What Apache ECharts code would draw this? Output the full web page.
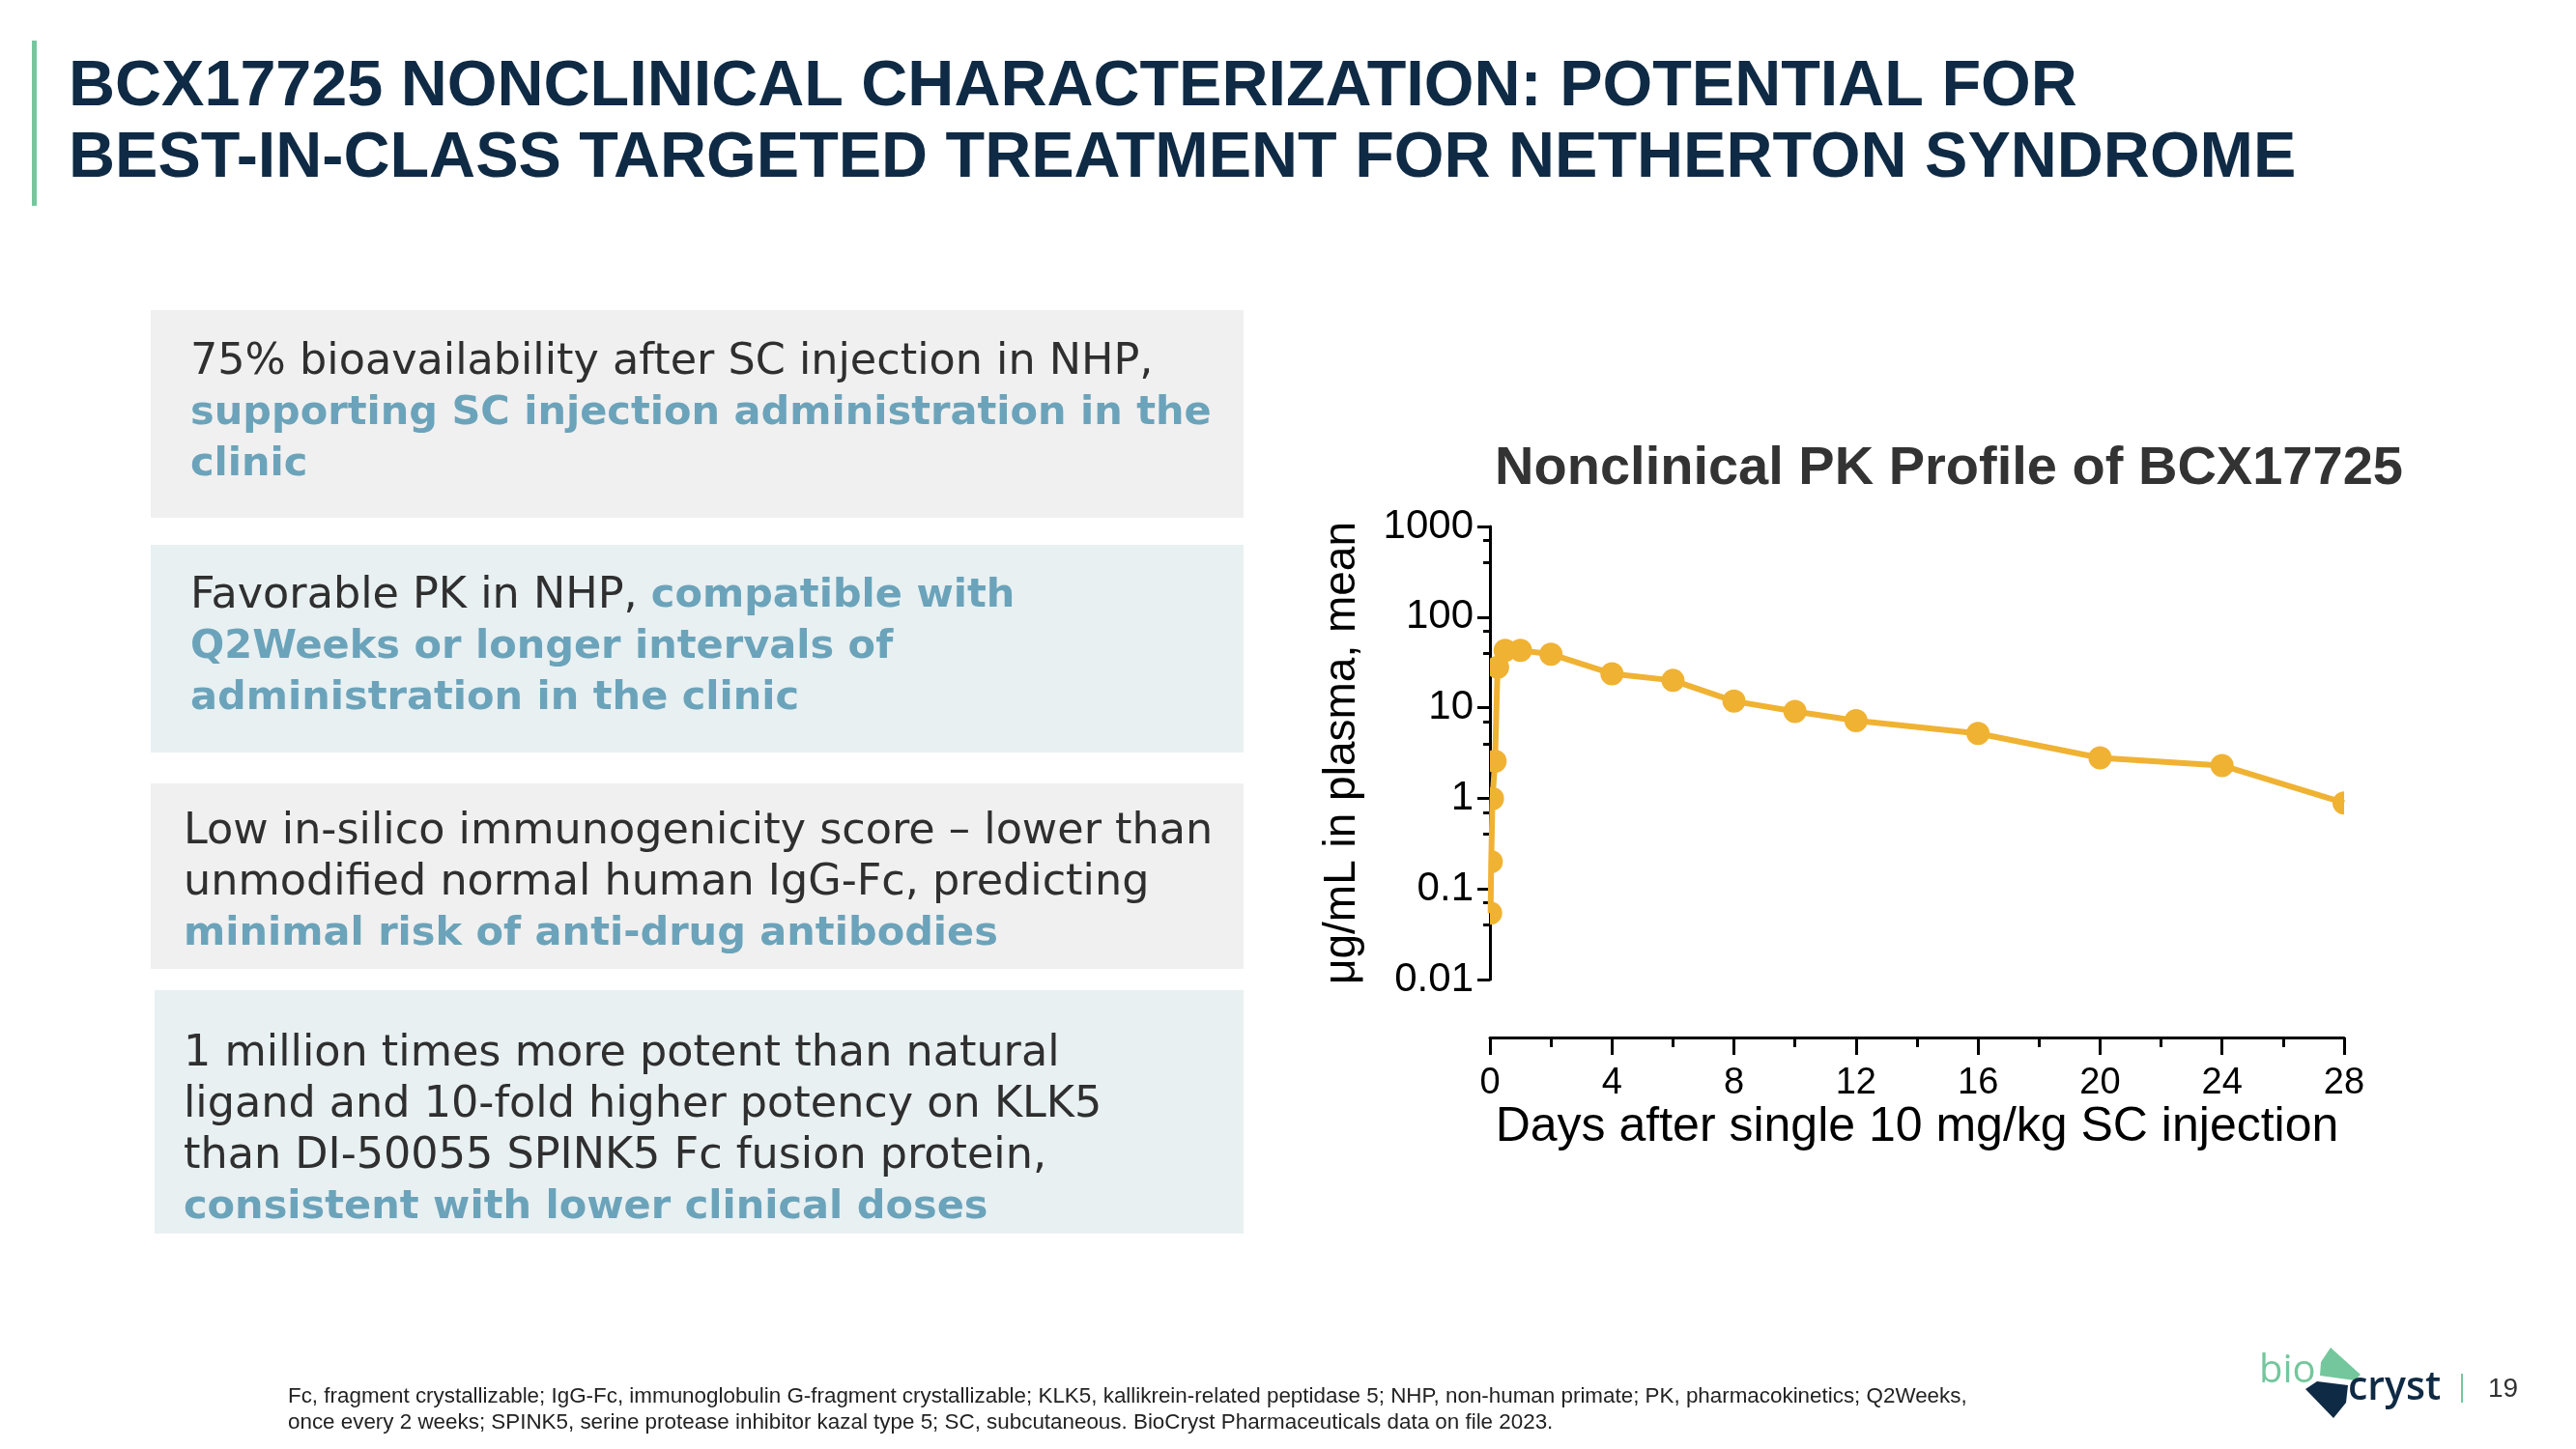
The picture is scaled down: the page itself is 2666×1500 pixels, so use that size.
<!DOCTYPE html>
<html>
<head>
<meta charset="utf-8">
<script src="https://cdn.jsdelivr.net/npm/echarts@6/dist/echarts.min.js"></script>
<style>
html,body{margin:0;padding:0;background:#fff;}
#chart{width:2666px;height:1500px;}
</style>
</head>
<body>
<div id="chart"></div>
<script>
// ---- data ----
const days = [0.021, 0.042, 0.083, 0.167, 0.25, 0.5, 1, 2, 4, 6, 8, 10, 12, 16, 20, 24, 28];
const concMean = [0.054, 0.2, 0.99, 2.57, 28, 43, 43, 39, 23.7, 20, 11.8, 9.1, 7.2, 5.2, 2.8, 2.3, 0.89];
const yTickLabels = ['0.01', '0.1', '1', '10', '100', '1000'];
const xTickLabels = ['0', '4', '8', '12', '16', '20', '24', '28'];
const chartTitle = 'Nonclinical PK Profile of BCX17725';
const xAxisTitle = 'Days after single 10 mg/kg SC injection';
const yAxisTitle = 'μg/mL in plasma, mean';
const slideTitle = ['BCX17725 NONCLINICAL CHARACTERIZATION: POTENTIAL FOR',
                    'BEST-IN-CLASS TARGETED TREATMENT FOR NETHERTON SYNDROME'];
const box1 = [[['d','75% bioavailability after SC injection in NHP,']],
              [['b','supporting SC injection administration in the']],
              [['b','clinic']]];
const box2 = [[['d','Favorable PK in NHP, '],['b','compatible with']],
              [['b','Q2Weeks or longer intervals of']],
              [['b','administration in the clinic']]];
const box3 = [[['d','Low in-silico immunogenicity score – lower than']],
              [['d','unmodified normal human IgG-Fc, predicting']],
              [['b','minimal risk of anti-drug antibodies']]];
const box4 = [[['d','1 million times more potent than natural']],
              [['d','ligand and 10-fold higher potency on KLK5']],
              [['d','than DI-50055 SPINK5 Fc fusion protein,']],
              [['b','consistent with lower clinical doses']]];
const footnote = ['Fc, fragment crystallizable; IgG-Fc, immunoglobulin G-fragment crystallizable; KLK5, kallikrein-related peptidase 5; NHP, non-human primate; PK, pharmacokinetics; Q2Weeks,',
                  'once every 2 weeks; SPINK5, serine protease inhibitor kazal type 5; SC, subcutaneous. BioCryst Pharmaceuticals data on file 2023.'];
const pageNumber = '19';

// ---- styling ----
const ORANGE = '#F0B233';
const NAVY = '#0F2A44';
const DARK = '#2F2F2F';
const BLUE = '#6BA3BA';
const GREEN = '#74C79D';
const BOXFONT = '"DejaVu Sans", "Open Sans", sans-serif';
const LOGOFONT = '"Open Sans", "Noto Sans", sans-serif';
const ARIAL = '"Liberation Sans", Arial, sans-serif';

const chart = echarts.init(document.getElementById('chart'), null, {renderer: 'canvas'});

const graphics = [];
// green accent bar
graphics.push({type: 'rect', shape: {x: 33, y: 42, width: 5, height: 171}, style: {fill: GREEN}});
// slide title
slideTitle.forEach((t, i) => {
  graphics.push({type: 'text', x: 71, y: 91 + i * 74,
    style: {text: t, font: 'bold 66.5px ' + ARIAL, fill: NAVY, textVerticalAlign: 'middle'}});
});
// boxes
function addBox(x, y, w, h, fill, lines, tx, ty0) {
  graphics.push({type: 'rect', shape: {x: x, y: y, width: w, height: h}, style: {fill: fill}});
  lines.forEach((segs, i) => {
    const txt = segs.map(s => '{' + s[0] + '|' + s[1] + '}').join('');
    graphics.push({type: 'text', x: tx, y: ty0 + i * 53,
      style: {text: txt, textVerticalAlign: 'middle',
        rich: {
          d: {fontFamily: BOXFONT, fontSize: 44.5, fontWeight: 400, fill: DARK},
          b: {fontFamily: BOXFONT, fontSize: 41.5, fontWeight: 700, fill: BLUE}
        }}});
  });
}
addBox(156, 321, 1131, 215, '#F0F0F0', box1, 197, 375);
addBox(156, 564, 1131, 215, '#E8F0F2', box2, 197, 617);
addBox(156, 811, 1131, 192, '#F0F0F0', box3, 190, 861);
addBox(160, 1025, 1127, 252, '#E8F0F2', box4, 190, 1091);
// chart title
graphics.push({type: 'text', x: 2017, y: 486,
  style: {text: chartTitle, font: 'bold 56px ' + ARIAL, fill: '#333333', textAlign: 'center', textVerticalAlign: 'middle'}});
// footnote
footnote.forEach((t, i) => {
  graphics.push({type: 'text', x: 298, y: 1446 + i * 27,
    style: {text: t, font: '22.4px ' + ARIAL, fill: '#222222', textVerticalAlign: 'middle'}});
});
// logo
graphics.push({type: 'text', x: 2338, y: 1420, style: {text: 'bio', font: '500 40px ' + LOGOFONT, fill: GREEN, textVerticalAlign: 'middle'}});
graphics.push({type: 'polygon', shape: {points: [[2412, 1395], [2443, 1423], [2437, 1429], [2401, 1424], [2402, 1410]]}, style: {fill: GREEN}});
graphics.push({type: 'polygon', shape: {points: [[2386, 1438], [2398, 1430], [2430, 1434], [2428, 1452], [2415, 1468]]}, style: {fill: NAVY}});
graphics.push({type: 'text', x: 2430, y: 1437, style: {text: 'cryst', font: '600 41px ' + LOGOFONT, fill: NAVY, textVerticalAlign: 'middle'}});
graphics.push({type: 'rect', shape: {x: 2547, y: 1422, width: 2, height: 30}, style: {fill: GREEN}});
graphics.push({type: 'text', x: 2575, y: 1438, style: {text: pageNumber, font: '28px ' + ARIAL, fill: '#333333', textVerticalAlign: 'middle'}});

const points = days.map((d, i) => [d, concMean[i]]);

chart.setOption({
  animation: false,
  backgroundColor: '#ffffff',
  graphic: graphics,
  grid: {left: 1542, right: 240, top: 545, bottom: 486, containLabel: false},
  xAxis: {
    type: 'value', min: 0, max: 28, interval: 4, offset: 60,
    axisLine: {show: true, onZero: false, lineStyle: {color: '#000', width: 3}},
    axisTick: {show: true, length: 18, lineStyle: {color: '#000', width: 3}},
    minorTick: {show: true, splitNumber: 2, length: 10, lineStyle: {color: '#000', width: 3}},
    splitLine: {show: false},
    axisLabel: {fontSize: 38, color: '#000', fontFamily: ARIAL, margin: 29,
      formatter: v => xTickLabels[Math.round(v / 4)]},
    name: xAxisTitle, nameLocation: 'middle', nameGap: 66,
    nameTextStyle: {fontSize: 50, color: '#000', fontFamily: ARIAL}
  },
  yAxis: {
    type: 'log', logBase: 10, min: 0.01, max: 1000,
    axisLine: {show: true, onZero: false, lineStyle: {color: '#000', width: 3}},
    axisTick: {show: true, length: 13, lineStyle: {color: '#000', width: 3}},
    minorTick: {show: true, splitNumber: 3, length: 7, lineStyle: {color: '#000', width: 3}},
    splitLine: {show: false},
    axisLabel: {fontSize: 42, color: '#000', fontFamily: ARIAL, margin: 17,
      formatter: v => yTickLabels[Math.round(Math.log10(v)) + 2]},
    name: yAxisTitle, nameLocation: 'middle', nameGap: 130, nameRotate: 90,
    nameTextStyle: {fontSize: 46, color: '#000', fontFamily: ARIAL}
  },
  series: [
    {type: 'line', data: points, symbol: 'none', z: 2,
      lineStyle: {color: ORANGE, width: 6}, clip: true},
    {type: 'custom', data: points, clip: true, z: 3,
      renderItem: function (params, api) {
        const p = api.coord([api.value(0), api.value(1)]);
        return {type: 'circle', shape: {cx: p[0], cy: p[1], r: 12}, style: {fill: ORANGE}};
      }}
  ]
});
</script>
</body>
</html>
